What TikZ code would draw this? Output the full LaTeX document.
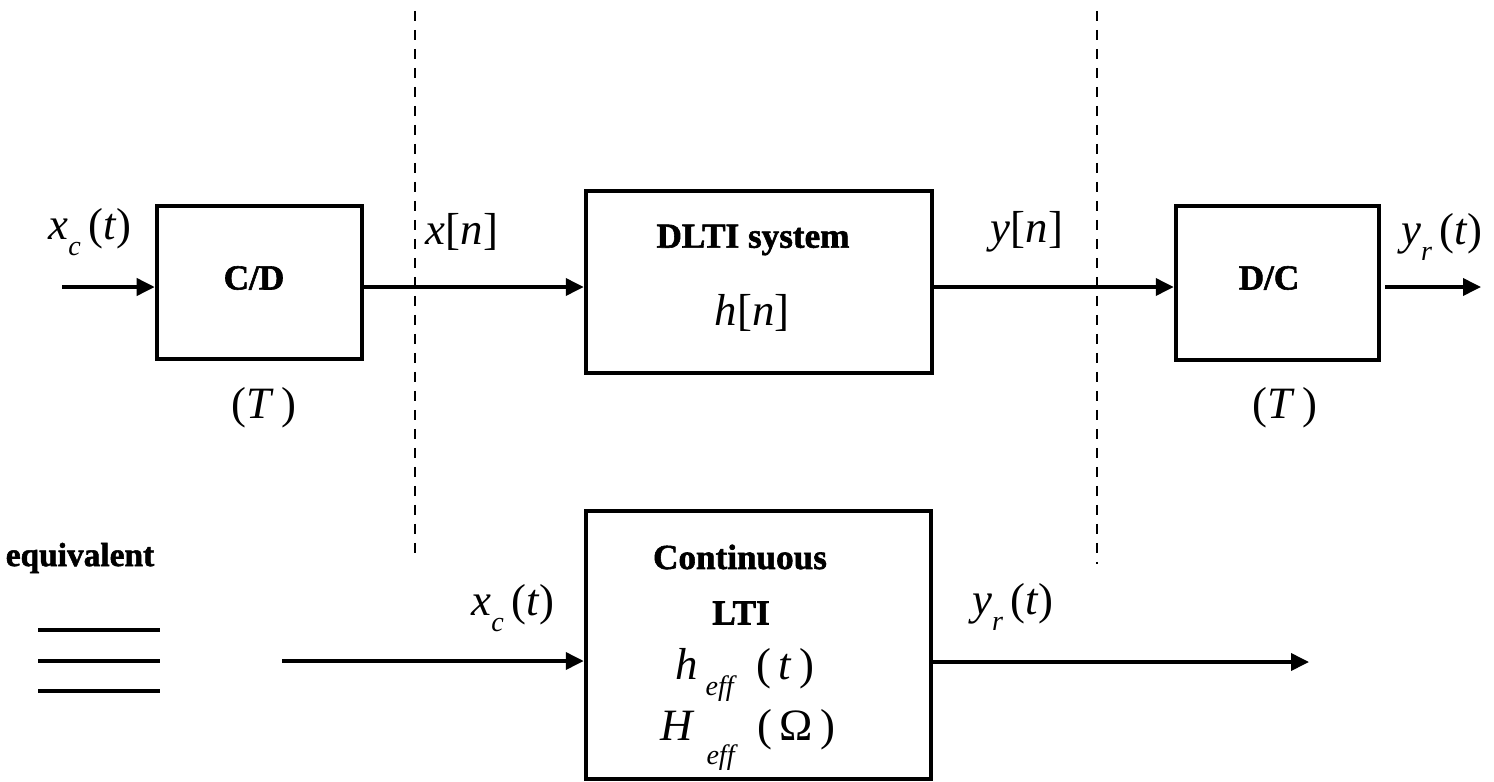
\documentclass[tikz,border=0pt]{standalone}
\usepackage{fontspec}
\setmainfont{Liberation Serif}
\newfontfamily\heavyfont{Liberation Serif}[BoldFeatures={FakeBold=1.6}]
\usetikzlibrary{arrows.meta}
% italic variable and lowered italic subscript
\newcommand\iv[1]{\textit{#1}}
\newcommand\sub[1]{\raisebox{-0.35em}{\fontsize{16}{16}\selectfont\itshape #1}}
\newcommand\lsub[1]{\raisebox{-0.55em}{\fontsize{16}{16}\selectfont\itshape #1}}

\begin{document}
\begin{tikzpicture}[x=0.02cm,y=-0.02cm,
  blk/.style={draw, line width=2.6pt, inner sep=0pt},
  sig/.style={line width=2.1pt, -{Triangle[length=0.36cm,width=0.34cm]}},
  sepline/.style={line width=1.3pt, dash pattern=on 0.2cm off 0.18cm},
  mth/.style={font=\fontsize{25.5}{30}\selectfont, inner sep=0pt},
  lbl/.style={font=\fontsize{20}{24}\selectfont\heavyfont\bfseries, inner sep=0pt},
  eqrule/.style={line width=2.1pt}]
\useasboundingbox (0,0) rectangle (1494,781);

% blocks
\node[blk, minimum width=4.1cm,  minimum height=3.06cm] (cd)  at (259.5,282.5) {};
\node[blk, minimum width=6.92cm, minimum height=3.64cm] (dlti) at (759,282) {};
\node[blk, minimum width=4.06cm, minimum height=3.08cm] (dc)  at (1277.5,283) {};
\node[blk, minimum width=6.9cm,  minimum height=5.36cm] (lti) at (758.5,645) {};

% block contents
\node[lbl] (cdtxt) at (254,278) {C/D};
\node[mth] (cdT) at (264,408) {(\iv{T}\,)};
\node[lbl] (dltitxt) at (753,240) {DLTI system};
\node[mth] (hn) at (752,313) {\iv{h}[\iv{n}]};
\node[lbl] (dctxt) at (1269,278) {D/C};
\node[mth] (dcT) at (1285,408) {(\iv{T}\,)};
\node[lbl] (conttxt) at (740,557) {Continuous};
\node[lbl] (ltitxt) at (741,613) {LTI};
\node[mth] (heff) at (745,675) {\iv{h}\,\sub{eff}\ \ (\,\iv{t}\,)};
\node[mth] (Heff) at (748,740) {\iv{H}\ \lsub{eff}\ \ (\,Ω\,)};

% signal labels
\node[mth] (xcin) at (90,232) {\iv{x}\sub{c}\,(\iv{t})};
\node[mth] (xn) at (462,232) {\iv{x}[\iv{n}]};
\node[mth] (yn) at (1027,232) {\iv{y}[\iv{n}]};
\node[mth] (yrout) at (1442,237) {\iv{y}\sub{r}\,(\iv{t})};
\node[mth] (xcin2) at (513,608) {\iv{x}\sub{c}\,(\iv{t})};
\node[mth] (yrout2) at (1013,607) {\iv{y}\sub{r}\,(\iv{t})};
\node[lbl, font=\fontsize{19}{23}\selectfont\heavyfont\bfseries] (equiv) at (80,558) {equivalent};

% free ends of the signal lines
\coordinate (in1) at (62,287);
\coordinate (out1) at (1481,287);
\coordinate (in2) at (282,661);
\coordinate (out2) at (1309,662);

% signal flow
\draw[sig] (in1) -- (cd.west |- in1);
\draw[sig] (cd.east |- in1) -- (dlti.west |- in1);
\draw[sig] (dlti.east |- in1) -- (dc.west |- in1);
\draw[sig] (1385,287) -- (out1);
\draw[sig] (in2) -- (lti.west |- in2);
\draw[sig] (lti.east |- out2) -- (out2);

% domain separators
\coordinate (d1t) at (415,0);
\coordinate (d1b) at (415,560);
\coordinate (d2t) at (1097,0);
\coordinate (d2b) at (1097,564);
\draw[sepline] ([yshift=-0.22cm]d1t) -- (d1b);
\draw[sepline] ([yshift=-0.22cm]d2t) -- (d2b);

% equivalence sign
\foreach \yy in {630,661,691}
  \draw[eqrule] (38,\yy) -- (160,\yy);
\end{tikzpicture}
\end{document}
